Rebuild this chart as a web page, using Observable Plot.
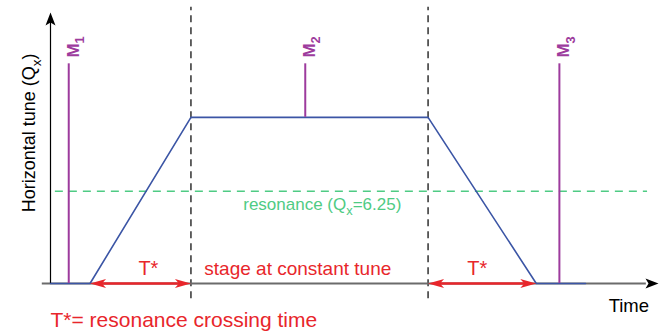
<!DOCTYPE html>
<html><head><meta charset="utf-8">
<script src="https://cdn.jsdelivr.net/npm/d3@7"></script>
<script src="https://cdn.jsdelivr.net/npm/@observablehq/plot@0.6"></script>
<style>body{margin:0;background:#fff} svg{display:block}</style>
</head><body><div id="chart"></div>
<script>
// ---- data ----
const profileTime = [0, 6.5, 23.1, 62.1, 79.9, 88];
const profileTune = [6.0, 6.0, 6.45, 6.45, 6.0, 6.0];
const stageBounds = [23.1, 62.1];
const resonanceTune = 6.25;
const monitorTime = [3, 41.9, 83.7];
const monitorBase = [6.0, 6.45, 6.0];
const monitorLabels = ["M_{1}", "M_{2}", "M_{3}"];
const monitorTop = 6.595;
const crossingStart = [6.5, 62.1];
const crossingEnd = [23.1, 79.9];
const crossingLabelTime = [16.1, 70.2];

const profile = profileTime.map((t, i) => ({t, q: profileTune[i]}));
const monitors = monitorTime.map((t, i) => ({t, base: monitorBase[i], label: monitorLabels[i]}));
const crossings = crossingStart.map((s, i) => ({start: s, end: crossingEnd[i], mid: crossingLabelTime[i]}));

// ---- custom arrowhead symbols (tip at origin) ----
const arrowUp = {draw(c){c.moveTo(0,0);c.lineTo(5,13);c.lineTo(0,10);c.lineTo(-5,13);c.closePath();}};
const arrowRight = {draw(c){c.moveTo(0,0);c.lineTo(-13,-5);c.lineTo(-10,0);c.lineTo(-13,5);c.closePath();}};
const redLeft = {draw(c){c.moveTo(0,0);c.lineTo(16,-4.5);c.lineTo(12,0);c.lineTo(16,4.5);c.closePath();}};
const redRight = {draw(c){c.moveTo(0,0);c.lineTo(-16,-4.5);c.lineTo(-12,0);c.lineTo(-16,4.5);c.closePath();}};

const RED = "#e8262b", GREEN = "#4fcb84", BLUE = "#3b55a5", PURPLE = "#9d3b9d";

const chart = Plot.plot({
  width: 664, height: 331,
  x: {domain: [0, 100], range: [50, 658], axis: null},
  y: {domain: [6, 6.5], range: [283, 98.4], axis: null},
  style: {fontFamily: "'Liberation Sans', Arial, sans-serif", background: "white", overflow: "visible"},
  marks: [
    Plot.ruleX(stageBounds, {x: d => d, y1: 5.959, y2: 6.748, stroke: "#111", strokeWidth: 1.3, strokeDasharray: "7,5"}),
    Plot.ruleY([resonanceTune], {y: d => d, x1: 0.8, x2: 98.2, stroke: GREEN, strokeWidth: 1.5, strokeDasharray: "8,6"}),
    Plot.ruleY([6], {y: d => d, x1: -1.35, x2: 98, stroke: "#6b6b6b", strokeWidth: 2}),
    Plot.ruleX([0], {x: d => d, y1: 6, y2: 6.71, stroke: "black", strokeWidth: 1.2}),
    Plot.line(profile, {x: "t", y: "q", stroke: BLUE, strokeWidth: 1.6}),
    Plot.ruleX(monitors, {x: "t", y1: "base", y2: monitorTop, stroke: PURPLE, strokeWidth: 2}),
    Plot.ruleY(crossings, {x1: "start", x2: "end", y: 6, stroke: RED, strokeWidth: 2.5, insetLeft: 8, insetRight: 8}),
    Plot.dot(crossings, {x: "start", y: 6, symbol: redLeft, fill: RED, stroke: "none"}),
    Plot.dot(crossings, {x: "end", y: 6, symbol: redRight, fill: RED, stroke: "none"}),
    Plot.dot([0], {x: d => d, y: 6.734, symbol: arrowUp, fill: "black", stroke: "none"}),
    Plot.dot([100], {x: d => d, y: 6, symbol: arrowRight, fill: "black", stroke: "none"}),
    Plot.text(crossings, {x: "mid", y: 6.022, text: () => "T*", fill: RED, fontSize: 20, textAnchor: "middle", lineAnchor: "bottom"}),
    Plot.text(["stage at constant tune"], {x: 25.3, y: 6.022, text: d => d, fill: RED, fontSize: 19, textAnchor: "start", lineAnchor: "bottom"}),
    Plot.text(["T*= resonance crossing time"], {x: 0, y: 5.8816, text: d => d, fill: RED, fontSize: 21, textAnchor: "start", lineAnchor: "bottom"}),
    Plot.text(["resonance (Q_{x}=6.25)"], {x: 31.7, y: 6.1996, text: d => d, fill: GREEN, fontSize: 17, textAnchor: "start", lineAnchor: "bottom"}),
    Plot.text(["Time"], {x: 91.8, y: 5.922, text: d => d, fill: "black", fontSize: 18.5, textAnchor: "start", lineAnchor: "bottom"}),
    Plot.text(["Horizontal tune (Q_{x})"], {x: -2.47, y: 6.408, text: d => d, fill: "black", fontSize: 18, rotate: -90, textAnchor: "middle", lineAnchor: "bottom"}),
    Plot.text(monitors, {x: "t", y: 6.612, text: "label", dx: 10, fill: PURPLE, fontSize: 17, fontWeight: "bold", rotate: -90, textAnchor: "start", lineAnchor: "bottom"})
  ]
});

// subscripts: "A_{b}C" -> A, tspan b (smaller, shifted down), C
chart.querySelectorAll("text").forEach(t => {
  const s = t.textContent;
  const m = s.match(/^(.*)_\{(.*?)\}(.*)$/);
  if (!m) return;
  const fs = parseFloat(t.getAttribute("font-size")) || parseFloat(t.parentNode.getAttribute("font-size")) || 16;
  const shift = fs * 0.3;
  while (t.firstChild) t.removeChild(t.firstChild);
  const ns = "http://www.w3.org/2000/svg";
  t.appendChild(document.createTextNode(m[1]));
  const sub = document.createElementNS(ns, "tspan");
  sub.setAttribute("font-size", (fs * 0.75).toFixed(1));
  sub.setAttribute("dy", shift.toFixed(1));
  sub.textContent = m[2];
  t.appendChild(sub);
  if (m[3]) {
    const rest = document.createElementNS(ns, "tspan");
    rest.setAttribute("dy", (-shift).toFixed(1));
    rest.textContent = m[3];
    t.appendChild(rest);
  }
});

document.getElementById("chart").appendChild(chart);
</script>
</body></html>
